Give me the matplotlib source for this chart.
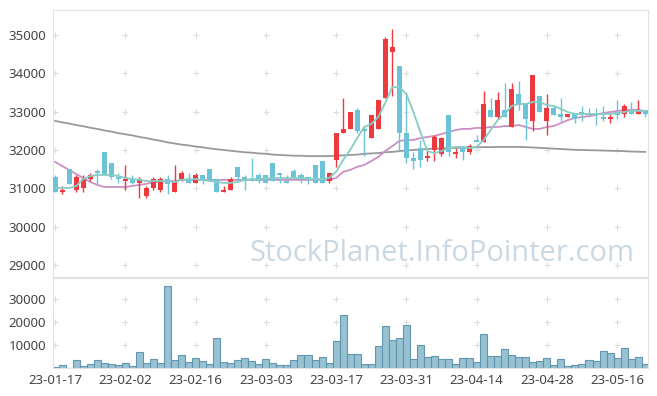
import matplotlib
matplotlib.use("Agg")
import matplotlib.pyplot as plt

# 일봉 데이터 (23-01-17 ~ 23-05-22)
opens = [31300, 30900, 31500, 30950, 31000, 31250, 31450, 31950, 31650, 31300,
         31200, 31250, 31150, 30800, 31000, 30950, 31250, 30900, 31250, 31250,
         31150, 31350, 31500, 31250, 30900, 30950, 31550, 31300, 31250, 31350,
         31350, 31650, 31400, 31200, 31450, 31350, 31300, 31600, 31700, 31200,
         31750, 32450, 32550, 33050, 32550, 32300, 32550, 33350, 34550, 34200,
         32450, 31800, 32050, 31800, 32000, 31900, 32900, 31900, 32050, 31950,
         32250, 32200, 33050, 32850, 33050, 32600, 33450, 33200, 32750, 33400,
         32750, 33100, 32950, 32850, 32950, 33000, 32950, 32950, 32850, 32800,
         33000, 32950, 33050, 32950, 33050]
highs = [31350, 31050, 31500, 31350, 31350, 31400, 31500, 31950, 31650, 31400,
         31600, 31350, 31300, 31050, 31300, 31300, 31350, 31600, 31450, 31400,
         31400, 31350, 31500, 31250, 31050, 31300, 31550, 31350, 31800, 31400,
         31350, 31650, 31400, 31350, 31500, 31400, 31300, 31600, 31700, 31400,
         32450, 33350, 33000, 33100, 32600, 32900, 33300, 34950, 35150, 34200,
         33500, 31950, 32250, 32000, 32400, 32350, 32900, 32050, 32100, 32150,
         32400, 33550, 33350, 33500, 33750, 33750, 33800, 33200, 33950, 33400,
         33450, 33150, 33350, 32950, 32950, 33150, 33100, 33100, 33150, 32950,
         33300, 33200, 33250, 33300, 33050]
lows = [30900, 30850, 31100, 30900, 30900, 31200, 31100, 31350, 31250, 31150,
        30950, 31100, 30750, 30750, 30950, 30900, 30850, 30900, 31200, 31150,
        31150, 31100, 31200, 30900, 30900, 30950, 31200, 30950, 31200, 31150,
        31150, 31200, 31150, 31150, 31250, 31150, 31100, 31150, 31150, 31150,
        31550, 32450, 32550, 32450, 31850, 32300, 32550, 33350, 33400, 32000,
        31650, 31500, 31550, 31700, 31700, 31850, 31850, 31800, 31750, 31900,
        32200, 32200, 32850, 32800, 32850, 32600, 33050, 32250, 32500, 33000,
        32400, 32900, 32750, 32850, 32700, 32750, 32850, 32650, 32750, 32700,
        32800, 32850, 32950, 32950, 32850]
closes = [30900, 30950, 31100, 31300, 31250, 31350, 31400, 31350, 31300, 31250,
          31250, 31150, 31250, 31000, 31250, 31250, 31100, 31200, 31400, 31150,
          31350, 31200, 31200, 30900, 30950, 31250, 31300, 31250, 31200, 31200,
          31150, 31200, 31350, 31150, 31300, 31250, 31250, 31150, 31150, 31400,
          32450, 32550, 33000, 32500, 32500, 32900, 33300, 34900, 34700, 32450,
          31800, 31700, 31750, 31850, 32350, 32300, 31950, 31950, 31950, 32100,
          32200, 33200, 32850, 33300, 32850, 33600, 33200, 32800, 33950, 33000,
          33100, 32900, 32850, 32950, 32800, 32950, 32900, 32900, 32800, 32850,
          32900, 33150, 32950, 33050, 32950]
volumes = [500, 1300, 300, 3480, 1000, 1740, 3480, 2175, 1740, 1300,
           2175, 1000, 7100, 2175, 3900, 2175, 35670, 3480, 5650, 2750,
           4350, 3200, 1740, 13050, 2750, 2175, 3480, 4350, 3200, 1740,
           3900, 2175, 1300, 1300, 3480, 5650, 5650, 3480, 4800, 2175,
           11750, 23050, 6100, 6100, 1740, 1740, 9570, 18270, 12180, 13050,
           18700, 3900, 10000, 4800, 5200, 3900, 3900, 1740, 4350, 4350,
           2750, 14800, 5200, 5200, 8270, 5650, 4800, 4800, 2750, 3200,
           4350, 1300, 3900, 870, 1300, 1740, 3480, 3200, 7400, 6500,
           4350, 8700, 3900, 4800, 1740]

# 이동평균선
ma5 = [31010, 31010, 31010, 31060, 31240, 31320, 31350, 31350, 31350, 31320,
       31270, 31240, 31220, 31190, 31190, 31190, 31190, 31165, 31220, 31240,
       31240, 31220, 31190, 31165, 31140, 31140, 31165, 31220, 31240, 31240,
       31270, 31270, 31270, 31270, 31270, 31270, 31240, 31240, 31240, 31270,
       31430, 31740, 32000, 32310, 32600, 32680, 32860, 33230, 33640, 33640,
       33460, 32990, 32470, 31970, 31920, 31970, 32050, 32080, 32080, 32050,
       32080, 32260, 32520, 32780, 32940, 33150, 33200, 33200, 33250, 33250,
       33170, 33150, 33070, 32990, 32940, 32940, 32940, 32940, 32940, 32940,
       32965, 32990, 33020, 33020, 33020]
ma20 = [31690, 31580, 31480, 31370, 31270, 31165, 31090, 31035, 31035, 31035,
        31035, 31060, 31090, 31115, 31165, 31165, 31190, 31190, 31220, 31220,
        31220, 31220, 31220, 31220, 31220, 31220, 31220, 31220, 31220, 31220,
        31220, 31220, 31220, 31220, 31220, 31220, 31220, 31220, 31220, 31220,
        31270, 31430, 31480, 31560, 31610, 31710, 31820, 31975, 32100, 32235,
        32260, 32260, 32310, 32340, 32365, 32415, 32470, 32520, 32550, 32550,
        32575, 32575, 32600, 32600, 32625, 32625, 32650, 32600, 32550, 32550,
        32600, 32625, 32705, 32780, 32835, 32860, 32885, 32915, 32965, 32990,
        33015, 33045, 33045, 33045, 33015]
ma120 = [32760, 32720, 32690, 32650, 32620, 32580, 32550, 32510, 32480, 32440,
         32410, 32380, 32340, 32310, 32270, 32240, 32200, 32170, 32140, 32120,
         32090, 32070, 32040, 32020, 32000, 31980, 31960, 31940, 31930, 31910,
         31900, 31880, 31870, 31860, 31850, 31850, 31840, 31840, 31840, 31840,
         31850, 31860, 31870, 31880, 31900, 31910, 31920, 31940, 31950, 31970,
         31990, 32000, 32010, 32030, 32030, 32040, 32050, 32055, 32060, 32065,
         32070, 32075, 32075, 32080, 32080, 32080, 32080, 32075, 32065, 32055,
         32045, 32035, 32025, 32015, 32005, 32000, 31995, 31990, 31985, 31980,
         31975, 31970, 31960, 31955, 31950]

tick_pos = [0, 10, 20, 30, 40, 50, 60, 70, 80]
tick_labels = ["23-01-17", "23-02-02", "23-02-16", "23-03-03", "23-03-17",
               "23-03-31", "23-04-14", "23-04-28", "23-05-16"]
price_ticks = [29000, 30000, 31000, 32000, 33000, 34000, 35000]
vol_ticks = [10000, 20000, 30000]

UP = "#ee3a3f"
DOWN = "#6cc3d7"
TXT = "#444444"
plt.rcParams["font.family"] = ["Noto Sans", "DejaVu Sans"]

fig = plt.figure(figsize=(6.57, 3.96), dpi=100)
ax = fig.add_axes([0.0807, 0.3005, 0.9056, 0.6742])
axv = fig.add_axes([0.0807, 0.0699, 0.9056, 0.2281], sharex=ax)

n = len(closes)
x = list(range(n))

# 격자 대신 + 표시
for t in tick_pos:
    ax.plot([t] * len(price_ticks), price_ticks, ls="none", marker="+",
            ms=5, mew=0.8, color="#dddddd", zorder=0)
    axv.plot([t] * len(vol_ticks), vol_ticks, ls="none", marker="+",
             ms=5, mew=0.8, color="#dddddd", zorder=0)

# 이동평균
ax.plot(x, ma120, color="#999999", lw=1.3, zorder=1)
ax.plot(x, ma20, color="#cc8fc4", lw=1.3, zorder=1)

# 캔들
for i in x:
    o, h, l, c = opens[i], highs[i], lows[i], closes[i]
    col = UP if c > o else DOWN
    ax.vlines(i, l, h, color=col, lw=1.0, zorder=2)
    ax.bar(i, max(abs(c - o), 25), bottom=min(o, c), width=0.72,
           color=col, lw=0, zorder=3)

ax.plot(x, ma5, color="#86cdc4", lw=1.3, zorder=4)

ax.text(0.978, 0.035, "StockPlanet.InfoPointer.com", transform=ax.transAxes,
        ha="right", va="bottom", fontsize=21, color="#c9d8e2",
        family=["Open Sans", "DejaVu Sans"], zorder=0)

# 거래량
axv.bar(x, volumes, width=1.0, color="#93bfd0", edgecolor="#5d93ad",
        lw=0.8, alpha=0.95, zorder=2)

ax.set_xlim(-0.3, 84.4)
ax.set_ylim(28686, 35652)
axv.set_ylim(0, 39260)

ax.set_yticks(price_ticks)
ax.set_yticklabels([str(v) for v in price_ticks])
axv.set_yticks(vol_ticks)
axv.set_yticklabels([str(v) for v in vol_ticks])
axv.set_xticks(tick_pos)
axv.set_xticklabels(tick_labels)
ax.tick_params(axis="x", labelbottom=False, length=0)
for a in (ax, axv):
    a.tick_params(axis="y", length=0, pad=5, labelsize=9.5, labelcolor=TXT)
    for s in a.spines.values():
        s.set_color("#e2e2e2")
        s.set_linewidth(0.8)
axv.tick_params(axis="x", length=0, pad=4, labelsize=9.5, labelcolor=TXT)

fig.savefig("out.png", dpi=100)
